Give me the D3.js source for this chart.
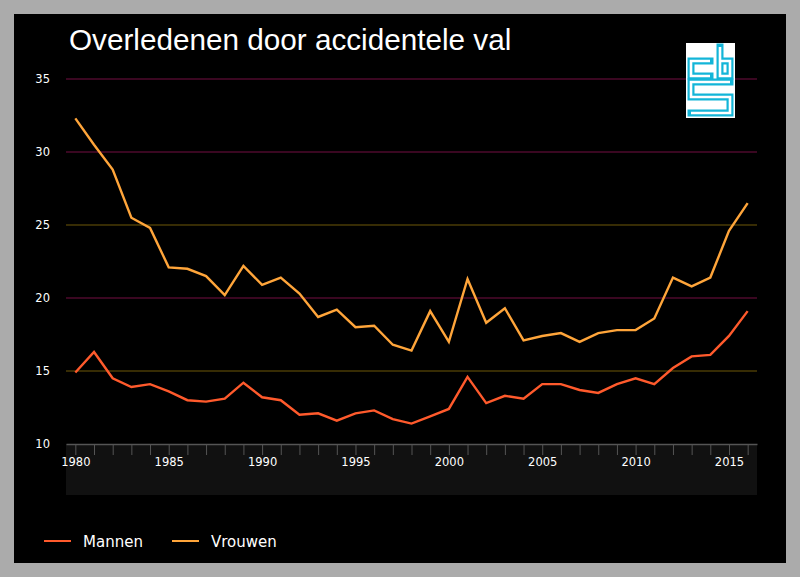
<!DOCTYPE html>
<html>
<head>
<meta charset="utf-8">
<script src="https://cdn.jsdelivr.net/npm/d3@7"></script>
<style>
  body { margin: 0; background: #ababab; }
  svg { display: block; }
</style>
</head>
<body>
<svg id="chart" width="800" height="577"></svg>
<script>
// chart data
const years = d3.range(1980, 2017);
const mannen = [14.9, 16.3, 14.5, 13.9, 14.1, 13.6, 13.0, 12.9, 13.1, 14.2,
  13.2, 13.0, 12.0, 12.1, 11.6, 12.1, 12.3, 11.7, 11.4, 11.9,
  12.4, 14.6, 12.8, 13.3, 13.1, 14.1, 14.1, 13.7, 13.5, 14.1,
  14.5, 14.1, 15.2, 16.0, 16.1, 17.4, 19.1];
const vrouwen = [32.3, 30.5, 28.8, 25.5, 24.8, 22.1, 22.0, 21.5, 20.2, 22.2,
  20.9, 21.4, 20.3, 18.7, 19.2, 18.0, 18.1, 16.8, 16.4, 19.1,
  17.0, 21.3, 18.3, 19.3, 17.1, 17.4, 17.6, 17.0, 17.6, 17.8,
  17.8, 18.6, 21.4, 20.8, 21.4, 24.6, 26.5];
const yTicks = [10, 15, 20, 25, 30, 35];
const seriesNames = ["Mannen", "Vrouwen"];
const title = "Overledenen door accidentele val";

const svg = d3.select("#chart");
const labelFont = "DejaVu Sans, Verdana, sans-serif";

// outer frame
svg.append("rect").attr("width", 800).attr("height", 577).attr("fill", "#ababab");
svg.append("rect").attr("x", 14).attr("y", 14).attr("width", 772).attr("height", 549).attr("fill", "#000");

const x = d3.scalePoint().domain(years).range([66, 757]).padding(0.5);
const y = d3.scaleLinear().domain([10, 35]).range([444, 79]);
const color = d3.scaleOrdinal().domain(seriesNames).range(["#ff5a2c", "#ffa53a"]);

// x-axis band
svg.append("rect").attr("x", 66).attr("y", 444).attr("width", 691).attr("height", 51).attr("fill", "#111");

// gridlines (alternating tints like the original)
const gridColor = v => (v === 25 || v === 15) ? "#4a3b06" : "#4e0a2c";
svg.append("g").selectAll("line")
  .data(yTicks.filter(v => v > 10))
  .join("line")
  .attr("x1", 66).attr("x2", 757)
  .attr("y1", d => y(d)).attr("y2", d => y(d))
  .attr("stroke", gridColor).attr("stroke-width", 1.3);

// y labels
svg.append("g").selectAll("text")
  .data(yTicks)
  .join("text")
  .attr("x", 50).attr("y", d => y(d)).attr("dy", "0.35em")
  .attr("text-anchor", "end")
  .attr("fill", "#fff").attr("font-family", labelFont).attr("font-size", 11.5)
  .text(d => d);

// x axis
const xAxis = svg.append("g")
  .attr("transform", "translate(0,444)")
  .call(d3.axisBottom(x).tickSize(11).tickSizeOuter(0).tickPadding(3)
    .tickFormat(d => d % 5 === 0 ? d : ""));
xAxis.select(".domain").attr("stroke", "#555").attr("stroke-width", 1.5);
xAxis.selectAll(".tick line").attr("stroke", "#555");
xAxis.selectAll(".tick text")
  .attr("fill", "#fff").attr("font-family", labelFont).attr("font-size", 11.5);

// lines
const line = d3.line()
  .x((d, i) => x(years[i]))
  .y(d => y(d));

[mannen, vrouwen].forEach((values, k) => {
  svg.append("path")
    .datum(values)
    .attr("d", line)
    .attr("fill", "none")
    .attr("stroke", color(seriesNames[k]))
    .attr("stroke-width", 2.4)
    .attr("stroke-linejoin", "miter");
});

// title
svg.append("text")
  .attr("x", 69).attr("y", 50)
  .attr("fill", "#fff")
  .attr("font-family", "Liberation Sans, Arial, sans-serif")
  .attr("font-size", 29.7)
  .text(title);

// legend
const legendX = [44, 172];
seriesNames.forEach((name, i) => {
  const g = svg.append("g").attr("transform", `translate(${legendX[i]},541)`);
  g.append("line").attr("x1", 0).attr("x2", 27).attr("y1", 0).attr("y2", 0)
    .attr("stroke", color(name)).attr("stroke-width", 2);
  g.append("text").attr("x", 39).attr("y", 6)
    .attr("fill", "#fff").attr("font-family", labelFont).attr("font-size", 15)
    .text(name);
});

// cbs logo
const logo = svg.append("g").attr("transform", "translate(686,43)");
logo.append("rect").attr("width", 49).attr("height", 75).attr("fill", "#fff");
const logoPaths = [
  "M24,18 L5,18 L5,33 L24,33",
  "M34,4 L34,33 L44,33 L44,18 L34,18",
  "M44,39 L5,39 L5,54 L44,54 L44,70 L5,70"
];
logo.selectAll("path.outer").data(logoPaths).join("path")
  .attr("class", "outer").attr("d", d => d)
  .attr("fill", "none").attr("stroke", "#13b5d8").attr("stroke-width", 7)
  .attr("stroke-linecap", "square");
logo.selectAll("path.inner").data(logoPaths).join("path")
  .attr("class", "inner").attr("d", d => d)
  .attr("fill", "none").attr("stroke", "#fff").attr("stroke-width", 2.6);
</script>
</body>
</html>
